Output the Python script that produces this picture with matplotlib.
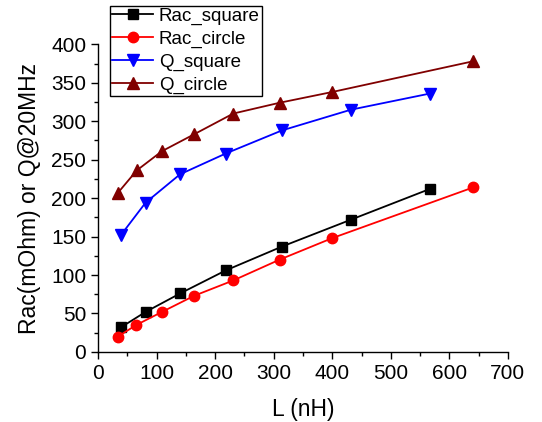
import matplotlib
matplotlib.use("Agg")
import matplotlib.pyplot as plt
from matplotlib.ticker import MultipleLocator

plt.rcParams['font.family'] = ['Liberation Sans', 'DejaVu Sans']

L_rac_sq = [39, 81, 140, 218, 314, 432, 567]
rac_sq = [32, 52, 76, 106, 137, 172, 212]
L_rac_ci = [34, 65, 109, 164, 231, 310, 400, 641]
rac_ci = [20, 35, 52, 73, 93, 120, 148, 214]
L_q_sq = [39, 81, 140, 218, 314, 432, 567]
q_sq = [152, 194, 231, 258, 288, 315, 336]
L_q_ci = [34, 66, 109, 164, 231, 310, 400, 641]
q_ci = [207, 236, 261, 283, 310, 324, 338, 378]

fig = plt.figure(figsize=(5.42, 4.22), dpi=100)
ax = fig.add_axes([0.181, 0.166, 0.756, 0.729])

ax.plot(L_rac_sq, rac_sq, '-s', color='black', ms=7, lw=1.3, label='Rac_square')
ax.plot(L_rac_ci, rac_ci, '-o', color='#ff0000', ms=7.5, lw=1.3, label='Rac_circle')
ax.plot(L_q_sq, q_sq, '-v', color='#0000ff', ms=8, lw=1.3, label='Q_square')
ax.plot(L_q_ci, q_ci, '-^', color='#800000', ms=8, lw=1.3, label='Q_circle')

ax.set_xlim(0, 700)
ax.set_ylim(0, 400)
ax.xaxis.set_major_locator(MultipleLocator(100))
ax.xaxis.set_minor_locator(MultipleLocator(50))
ax.yaxis.set_major_locator(MultipleLocator(50))
ax.yaxis.set_minor_locator(MultipleLocator(25))
for s in ['top', 'right']:
    ax.spines[s].set_visible(False)
for s in ['left', 'bottom']:
    ax.spines[s].set_linewidth(1.0)
ax.tick_params(which='major', direction='out', length=5, width=1, labelsize=15)
ax.tick_params(which='minor', direction='out', length=3, width=1)

ax.set_xlabel('L (nH)', fontsize=16.5, labelpad=11)
ax.set_ylabel('Rac(mOhm) or Q@20MHz', fontsize=16.5, labelpad=7)

leg = fig.legend(loc='upper left', bbox_to_anchor=(110/542, 1 - 6/422), fontsize=13.5,
                 frameon=True, fancybox=False, edgecolor='black', framealpha=1,
                 borderpad=0.1, labelspacing=0.3, handlelength=2.2, handletextpad=0.3,
                 borderaxespad=0)
leg.get_frame().set_linewidth(1.0)

fig.savefig('out.png', dpi=100)
